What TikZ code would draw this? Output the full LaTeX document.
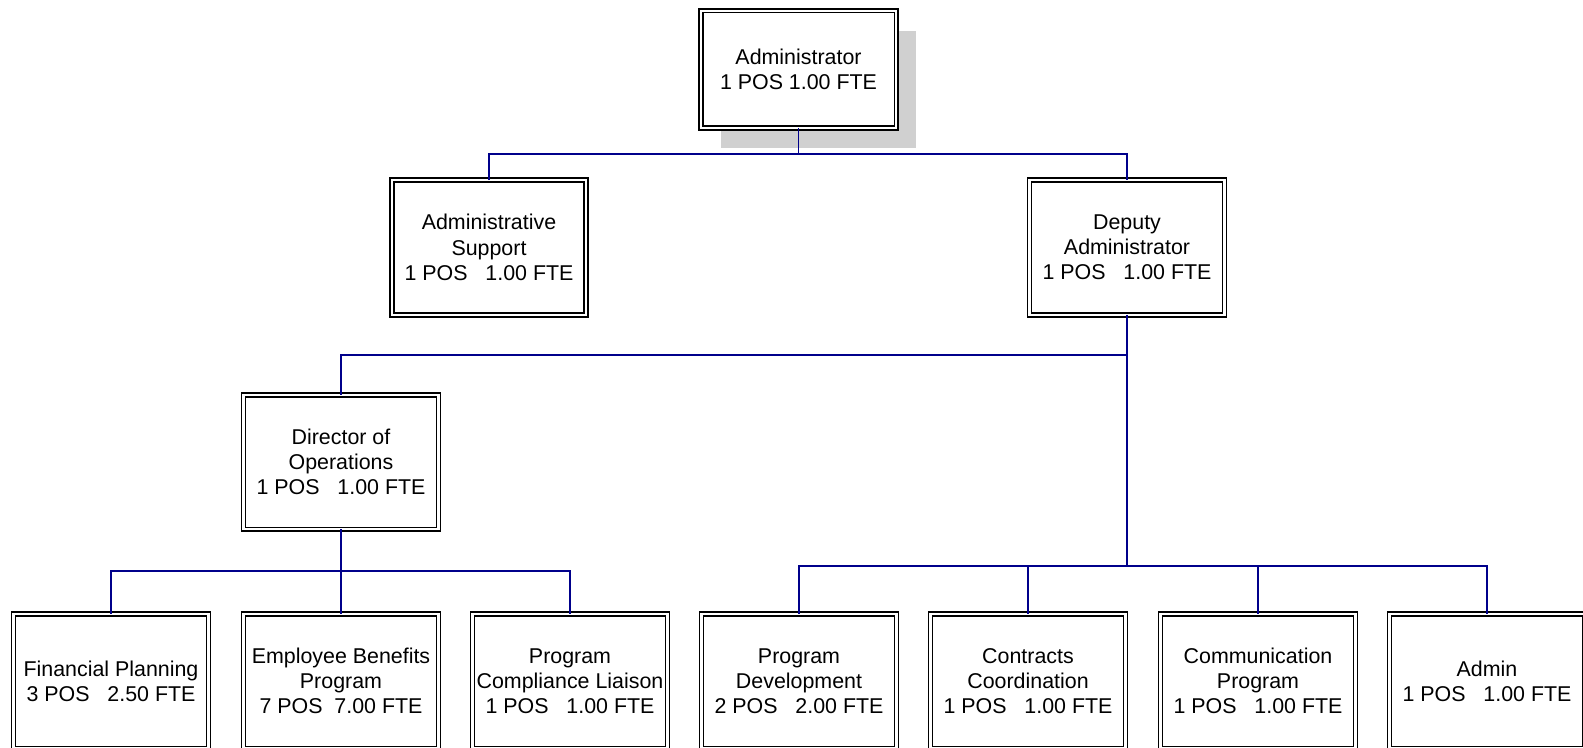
\documentclass[tikz,border=0pt]{standalone}
\usepackage{fontspec}
\setmainfont{Liberation Sans}
\usetikzlibrary{shadows}
\definecolor{linkblue}{RGB}{0,0,139}
\definecolor{shadowgray}{RGB}{208,208,208}

\begin{document}
\begin{tikzpicture}[x=0.5pt,y=-0.5pt,
  unitbox/.style={draw,double=white,double distance=1.1pt,line width=0.85pt,fill=white,
    minimum width=97.5pt,minimum height=67.3pt,inner sep=1pt,outer sep=0pt,
    align=center,font=\fontsize{10.7}{12.6}\selectfont},
  link/.style={draw=linkblue,line width=0.7pt},
  trunk/.style={draw=linkblue,line width=1.3pt}]
\clip (0,0) rectangle (1583,748);

% top of the chart
\node[unitbox,minimum width=97.8pt,minimum height=58.8pt,
  drop shadow={shadow xshift=10pt,shadow yshift=-10pt,fill=shadowgray,opacity=1}]
  (admin) at (798.5,69.5) {Administrator\\1 POS 1.00 FTE};

\node[unitbox,minimum width=97pt] (support) at (489,247.5) {Administrative\\Support\\1 POS\ \ \ 1.00 FTE};
\node[unitbox] (deputy) at (1127,247.5) {Deputy\\Administrator\\1 POS\ \ \ 1.00 FTE};
\node[unitbox] (director) at (341,462) {Director of\\Operations\\1 POS\ \ \ 1.00 FTE};

% bottom row
\node[unitbox] (finance) at (111,681) {Financial Planning\\3 POS\ \ \ 2.50 FTE};
\node[unitbox] (benefits) at (341,681) {Employee Benefits\\Program\\7 POS\ \ 7.00 FTE};
\node[unitbox] (compliance) at (570,681) {Program\\Compliance Liaison\\1 POS\ \ \ 1.00 FTE};
\node[unitbox] (progdev) at (799,681) {Program\\Development\\2 POS\ \ \ 2.00 FTE};
\node[unitbox] (contracts) at (1028,681) {Contracts\\Coordination\\1 POS\ \ \ 1.00 FTE};
\node[unitbox] (comms) at (1258,681) {Communication\\Program\\1 POS\ \ \ 1.00 FTE};
\node[unitbox] (adminstaff) at (1487,681) {Admin\\1 POS\ \ \ 1.00 FTE};

% connectors
\coordinate (busA) at (798.5,154);
\coordinate (busB) at (1127,355);
\coordinate (busC) at (1127,566);
\coordinate (busD) at (341,571);

\draw[link] (admin.south) -- (busA);
\draw[link] (support.north) |- (busA) -| (deputy.north);
\draw[link] (director.north) |- (busB);
\draw[trunk] (deputy.south) -- (busC);

\draw[link] (director.south) -- (benefits.north);
\draw[link] (finance.north) |- (busD) -| (compliance.north);

\draw[link] (progdev.north) |- (busC) -| (adminstaff.north);
\draw[link] (contracts.north) -- (contracts.north |- busC);
\draw[link] (comms.north) -- (comms.north |- busC);
\end{tikzpicture}
\end{document}
